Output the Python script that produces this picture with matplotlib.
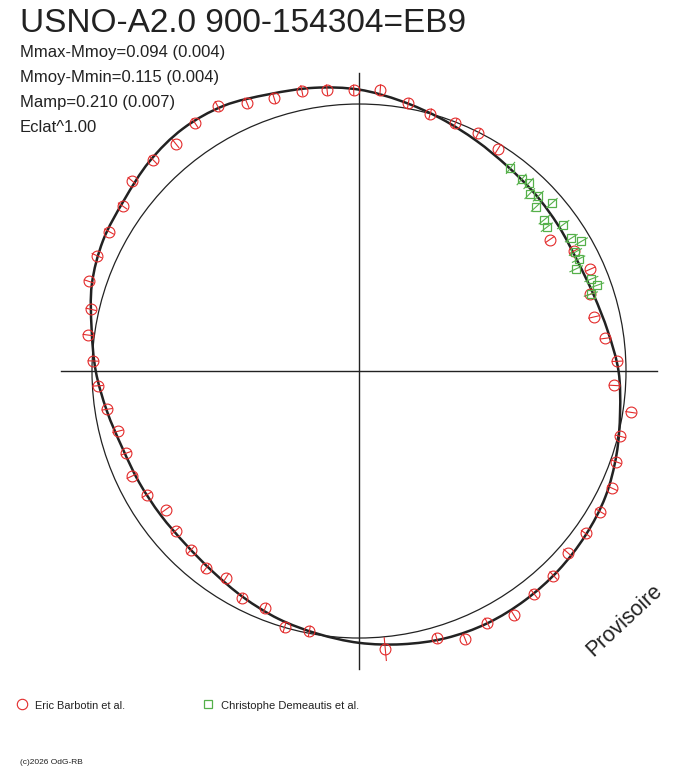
import numpy as np
import matplotlib
matplotlib.use('Agg')
import matplotlib.pyplot as plt
from matplotlib.collections import LineCollection
from matplotlib.lines import Line2D
from matplotlib.patches import Circle, PathPatch
from matplotlib.path import Path

plt.rcParams['font.family'] = ['Liberation Sans', 'DejaVu Sans']

title = 'USNO-A2.0 900-154304=EB9'
stats = ['Mmax-Mmoy=0.094 (0.004)', 'Mmoy-Mmin=0.115 (0.004)',
         'Mamp=0.210 (0.007)', 'Eclat^1.00']

# fitted light curve (phase, delta mag)
fit_phase = [0.000, 0.025, 0.050, 0.075, 0.100, 0.125, 0.150, 0.175, 0.200, 0.225,
             0.250, 0.275, 0.300, 0.325, 0.350, 0.375, 0.400, 0.425, 0.450, 0.475,
             0.500, 0.525, 0.550, 0.575, 0.600, 0.625, 0.650, 0.675, 0.700, 0.725,
             0.750, 0.775, 0.800, 0.825, 0.850, 0.875, 0.900, 0.925, 0.950, 0.975]
fit_dmag = [0.054, 0.023, -0.006, -0.032, -0.053, -0.065, -0.076, -0.084, -0.076, -0.056,
            -0.028, -0.010, 0.014, 0.036, 0.048, 0.056, 0.060, 0.060, 0.052, 0.036,
            0.018, -0.004, -0.024, -0.048, -0.070, -0.082, -0.082, -0.077, -0.068, -0.044,
            -0.014, 0.014, 0.052, 0.076, 0.088, 0.110, 0.122, 0.115, 0.090, 0.074]

# Eric Barbotin et al.
eb_phase = [0.997, 0.012, 0.029, 0.043, 0.059, 0.074, 0.089, 0.154, 0.169, 0.184,
            0.199, 0.214, 0.229, 0.244, 0.259, 0.274, 0.289, 0.304, 0.319, 0.334,
            0.349, 0.364, 0.379, 0.394, 0.410, 0.425, 0.440, 0.455, 0.485, 0.530,
            0.545, 0.560, 0.576, 0.591, 0.605, 0.620, 0.636, 0.651, 0.666, 0.681,
            0.696, 0.711, 0.726, 0.741, 0.756, 0.771, 0.786, 0.801, 0.816, 0.831,
            0.847, 0.861, 0.877, 0.892, 0.907, 0.922, 0.937, 0.952, 0.968, 0.982]
eb_dmag = [0.052, 0.056, 0.019, -0.001, -0.005, -0.003, -0.021, -0.132, -0.076, -0.054,
           -0.087, -0.098, -0.069, -0.032, -0.042, 0.030, 0.009, 0.021, 0.045, 0.046,
           0.044, 0.036, 0.057, 0.062, 0.083, 0.058, 0.078, 0.043, 0.046, -0.008,
           0.000, -0.045, -0.043, -0.078, -0.064, -0.079, -0.090, -0.109, -0.079, -0.062,
           -0.075, -0.069, -0.046, -0.020, -0.004, 0.023, 0.030, 0.065, 0.073, 0.072,
           0.080, 0.109, 0.104, 0.094, 0.113, 0.125, 0.089, 0.069, 0.072, 0.059]
eb_err = [0.021] * len(eb_phase)
eb_err[28] = 0.045

# Christophe Demeautis et al.
cd_phase = [0.102, 0.112, 0.117, 0.122, 0.127, 0.131, 0.136, 0.141, 0.146,
            0.151, 0.161, 0.166, 0.170, 0.175, 0.180, 0.190, 0.195, 0.199]
cd_dmag = [-0.051, -0.059, -0.053, -0.078, -0.062, -0.094, -0.042, -0.103, -0.114,
           -0.059, -0.062, -0.036, -0.075, -0.077, -0.101, -0.064, -0.052, -0.085]
cd_err = [0.028] * len(cd_phase)

red = '#e32b2b'
green = '#55b04a'
ink = '#222222'


def to_xy(phase, dmag):
    th = np.radians(90 - 360 * np.asarray(phase))
    r = 1 + np.asarray(dmag)
    return r * np.cos(th), r * np.sin(th)


def radial_bars(phase, dmag, err):
    th = np.radians(90 - 360 * np.asarray(phase))
    r = 1 + np.asarray(dmag)
    e = np.asarray(err)
    segs = []
    for t, rr, ee in zip(th, r, e):
        segs.append([((rr - ee) * np.cos(t), (rr - ee) * np.sin(t)),
                     ((rr + ee) * np.cos(t), (rr + ee) * np.sin(t))])
    return segs


def closed_smooth_path(x, y):
    # catmull-rom through the points, as bezier segments
    p = np.column_stack([x, y])
    n = len(p)
    verts = [p[0]]
    codes = [Path.MOVETO]
    for i in range(n):
        p0, p1, p2, p3 = p[i - 1], p[i], p[(i + 1) % n], p[(i + 2) % n]
        verts += [p1 + (p2 - p0) / 6, p2 - (p3 - p1) / 6, p2]
        codes += [Path.CURVE4] * 3
    return Path(verts, codes)


fig = plt.figure(figsize=(6.88, 7.68), dpi=100)
ax = fig.add_axes([0.0561, 0.0997, 0.9314, 0.8344])
ax.set_xlim(-1.2, 1.2)
ax.set_ylim(-1.2, 1.2)
ax.set_aspect('equal')
ax.axis('off')

L = 1.117
ax.plot([-L, L], [0, 0], color=ink, lw=1.0)
ax.plot([0, 0], [-L, L], color=ink, lw=1.0)
ax.add_patch(Circle((0, 0), 1.0, fill=False, color=ink, lw=0.9))

fx, fy = to_xy(fit_phase, fit_dmag)
ax.add_patch(PathPatch(closed_smooth_path(fx, fy), fill=False, ec=ink, lw=1.8, zorder=3))

ax.add_collection(LineCollection(radial_bars(eb_phase, eb_dmag, eb_err), colors=red, lw=0.8, zorder=4))
ex, ey = to_xy(eb_phase, eb_dmag)
ax.plot(ex, ey, 'o', ms=7.8, mfc='none', mec=red, mew=0.8, zorder=4)

ax.add_collection(LineCollection(radial_bars(cd_phase, cd_dmag, cd_err), colors=green, lw=0.8, zorder=5))
cx, cy = to_xy(cd_phase, cd_dmag)
ax.plot(cx, cy, 's', ms=6, mfc='none', mec=green, mew=0.9, zorder=5)

# header texts
H = 768.0
fig.text(20 / 688, 1 - 32 / H, title, fontsize=24, color=ink, va='baseline')
for i, s in enumerate(stats):
    fig.text(20 / 688, 1 - (57 + 25 * i) / H, s, fontsize=12, color=ink, va='baseline')

fig.text(624 / 688, 1 - 620 / H, 'Provisoire', fontsize=15.5, color=ink, rotation=43,
         ha='center', va='center', rotation_mode='anchor')

# legend
fig.add_artist(Line2D([22 / 688], [1 - 704 / H], transform=fig.transFigure, marker='o',
                      ms=7.5, mfc='none', mec=red, mew=0.8, ls='none'))
fig.text(35 / 688, 1 - 709 / H, 'Eric Barbotin et al.', fontsize=7.9, color=ink, va='baseline')
fig.add_artist(Line2D([208 / 688], [1 - 704 / H], transform=fig.transFigure, marker='s',
                      ms=5.5, mfc='none', mec=green, mew=0.9, ls='none'))
fig.text(221 / 688, 1 - 709 / H, 'Christophe Demeautis et al.', fontsize=8, color=ink, va='baseline')

fig.text(20 / 688, 1 - 764 / H, '(c)2026 OdG-RB', fontsize=6, color=ink, va='baseline')

fig.savefig('out.png', dpi=100, facecolor='white')
